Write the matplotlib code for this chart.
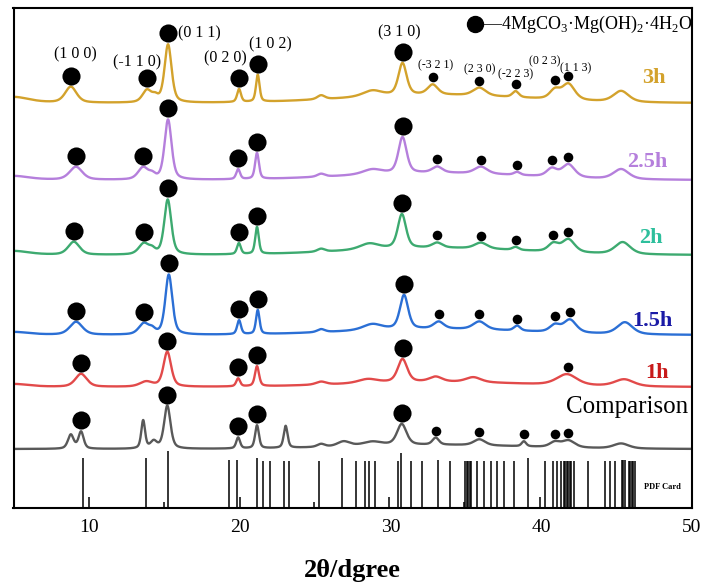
import numpy as np
import matplotlib
matplotlib.use("Agg")
import matplotlib.pyplot as plt

plt.rcParams['font.family'] = ['Liberation Serif', 'DejaVu Serif']
plt.rcParams['mathtext.fontset'] = 'custom'
plt.rcParams['mathtext.rm'] = 'Liberation Serif'

# ---- data ----
# each pattern: baseline level, amorphous hump, peaks as (2theta, height, fwhm)
names = ['3h', '2.5h', '2h', '1.5h', '1h', 'Comparison']
baselines = [405, 328, 253, 173, 121, 59]
humps = [8, 7, 7, 6, 5, 4]

peaks_3h = [(5.0, 6, 2.5), (8.8, 16, 0.9), (13.85, 12, 0.7), (14.4, 5, 0.5),
            (15.25, 58, 0.55), (19.96, 13, 0.3), (21.2, 27, 0.28), (25.4, 4, 0.6),
            (28.8, 6, 1.5), (30.8, 32, 0.65), (32.8, 10, 0.8), (35.9, 8, 1.0),
            (38.3, 6, 0.5), (40.9, 9, 0.8), (41.8, 16, 1.0), (45.3, 11, 1.2)]
peaks_25h = [(5.0, 4, 2.5), (9.14, 13, 1.0), (13.6, 12, 0.8), (14.2, 4, 0.5),
             (15.25, 60, 0.55), (19.9, 10, 0.3), (21.15, 26, 0.3), (25.4, 3, 0.6),
             (28.8, 5, 1.5), (30.8, 36, 0.65), (33.1, 6, 0.8), (36.0, 7, 1.0),
             (38.4, 3, 0.5), (40.7, 8, 0.8), (41.8, 13, 1.0), (45.3, 10, 1.2)]
peaks_2h = [(5.0, 4, 2.5), (9.0, 13, 0.9), (13.65, 11, 0.8), (14.2, 4, 0.5),
            (15.23, 55, 0.55), (19.95, 11, 0.3), (21.15, 27, 0.28), (25.4, 3, 0.6),
            (28.6, 6, 1.5), (30.76, 34, 0.65), (33.1, 5, 0.8), (36.0, 6, 1.0),
            (38.3, 3, 0.5), (40.8, 8, 0.8), (41.8, 13, 1.0), (45.4, 12, 1.2)]
peaks_15h = [(5.0, 3, 2.5), (9.15, 13, 1.0), (13.65, 11, 0.8), (14.2, 4, 0.5),
             (15.3, 60, 0.55), (19.96, 14, 0.3), (21.2, 24, 0.28), (25.4, 3, 0.6),
             (28.8, 6, 1.5), (30.9, 34, 0.65), (33.2, 7, 0.8), (35.9, 8, 1.0),
             (38.4, 5, 0.5), (40.9, 7, 0.8), (41.9, 13, 1.0), (45.55, 12, 1.2)]
peaks_1h = [(5.0, 3, 2.5), (9.48, 13, 0.9), (13.8, 5, 1.0), (15.2, 35, 0.6),
            (19.9, 8, 0.3), (21.15, 20, 0.32), (25.4, 3, 0.8), (28.5, 4, 1.5),
            (30.8, 23, 0.75), (33.0, 5, 1.0), (35.5, 5, 1.2), (41.7, 11, 1.6),
            (45.5, 7, 1.5)]
peaks_cmp = [(8.8, 14, 0.45), (9.48, 17, 0.4), (13.6, 28, 0.3), (14.3, 7, 0.5),
             (15.2, 43, 0.5), (19.9, 11, 0.3), (21.15, 23, 0.3), (23.05, 22, 0.3),
             (25.4, 3, 0.6), (26.9, 5, 1.0), (28.8, 4, 1.5), (30.75, 21, 0.75),
             (33.0, 7, 0.5), (35.9, 6, 0.9), (38.85, 5, 0.35), (40.9, 5, 0.8),
             (41.8, 7, 1.0), (45.3, 5, 1.2)]
all_peaks = [peaks_3h, peaks_25h, peaks_2h, peaks_15h, peaks_1h, peaks_cmp]

# marked reflections (big dots / small dots)
big_dots = [[8.8, 13.85, 15.25, 19.96, 21.2, 30.8],
            [9.14, 13.6, 15.25, 19.9, 21.15, 30.8],
            [9.0, 13.65, 15.23, 19.95, 21.15, 30.76],
            [9.15, 13.65, 15.3, 19.96, 21.2, 30.9],
            [9.48, 15.2, 19.9, 21.15, 30.8],
            [9.48, 15.2, 19.9, 21.15, 30.75]]
small_dots = [[32.8, 35.9, 38.3, 40.9, 41.8],
              [33.1, 36.0, 38.4, 40.7, 41.8],
              [33.1, 36.0, 38.3, 40.8, 41.8],
              [33.2, 35.9, 38.4, 40.9, 41.9],
              [41.8],
              [33.0, 35.9, 38.85, 40.9, 41.8]]

hkl_big = ['(1 0 0)', '(-1 1 0)', '(0 1 1)', '(0 2 0)', '(1 0 2)', '(3 1 0)']
hkl_small = ['(-3 2 1)', '(2 3 0)', '(-2 2 3)', '(0 2 3)', '(1 1 3)']

# PDF card reference lines
pdf_pos = [9.6, 10.0, 13.82, 15.0, 15.28, 19.3, 19.82, 20.0, 21.15, 21.56, 22.0,
           22.95, 23.27, 24.9, 25.29, 26.77, 27.69, 28.28, 28.55, 28.96, 29.88,
           30.5, 30.68, 31.36, 32.07, 33.14, 33.92, 34.85, 34.95, 35.05, 35.15,
           35.25, 35.35, 35.75, 36.2, 36.65, 37.05, 37.55, 38.18, 39.12, 39.9,
           40.28, 40.78, 41.05, 41.3, 41.5, 41.6, 41.7, 41.8, 41.9, 42.0, 42.15,
           43.07, 44.25, 44.58, 44.9, 45.35, 45.45, 45.55, 45.8, 45.9, 46.0,
           46.1, 46.2]
pdf_int = [50, 11, 50, 6, 57, 48, 48, 11, 50, 47, 47,
           47, 47, 6, 47, 50, 47, 47, 47, 47, 11,
           47, 55, 47, 47, 48, 47, 6, 47, 47, 47,
           47, 47, 47, 47, 47, 47, 47, 47, 50, 11,
           47, 47, 47, 47, 47, 47, 47, 47, 47, 47, 47,
           47, 47, 47, 47, 48, 48, 48, 47, 47, 47,
           47, 47]

line_colors = ['#d3a22c', '#b57fdc', '#3daa70', '#2b6fd5', '#e24a4a', '#595959']
label_colors = ['#d3a22c', '#b57fdc', '#2dbf9c', '#1a1aa6', '#c81a1a', 'black']


def pv(x, c, h, w, eta=0.5):
    g = np.exp(-4 * np.log(2) * ((x - c) / w) ** 2)
    l = 1 / (1 + 4 * ((x - c) / w) ** 2)
    return h * ((1 - eta) * g + eta * l)


tt = np.linspace(5, 50, 4000)

fig = plt.figure(figsize=(7.03, 5.82), dpi=100)
ax = fig.add_axes([13.5 / 703, 1 - 508 / 582, 678.5 / 703, 500 / 582])

for i, name in enumerate(names):
    y = baselines[i] + pv(tt, 33, humps[i], 14, eta=0)
    for c, h, w in all_peaks[i]:
        y = y + pv(tt, c, h, w)
    ax.plot(tt, y, color=line_colors[i], lw=1.7)

    for xs, off, s in [(big_dots[i], 11, 170), (small_dots[i], 7, 48)]:
        ys = [y[np.abs(tt - x0) < 0.25].max() + off for x0 in xs]
        ax.scatter(xs, ys, s=s, color='black', zorder=5, linewidths=0)
        if i == 0:
            if off == 11:
                big_pts = list(zip(xs, ys))
            else:
                small_pts = list(zip(xs, ys))

# hkl labels on top pattern
big_off = [(3.6, 15), (-7, 11), (7, 0), (-10, 14), (9, 14), (-2, 14)]
for lab, (px, py), (dx, dy) in zip(hkl_big, big_pts, big_off):
    ha = 'left' if lab == '(0 1 1)' else 'center'
    ax.annotate(lab, (px, py), xytext=(dx, dy), textcoords='offset points',
                ha=ha, va='center', fontsize=11.5)
small_off = [(2, 9), (0, 8), (0, 7), (-7, 14), (5, 6)]
for lab, (px, py), (dx, dy) in zip(hkl_small, small_pts, small_off):
    ax.annotate(lab, (px, py), xytext=(dx, dy), textcoords='offset points',
                ha='center', va='center', fontsize=8.5)

# sample labels
label_xy = [(47.47, 430), (47.0, 346), (47.3, 270), (47.4, 187), (47.7, 135), (45.68, 101)]
for i, name in enumerate(names):
    if name == 'Comparison':
        ax.text(*label_xy[i], name, color='black', fontsize=18, ha='center', va='center')
    else:
        ax.text(*label_xy[i], name, color=label_colors[i], fontsize=16,
                fontweight='bold', ha='center', va='center')

# PDF card
ax.vlines(pdf_pos, 0, pdf_int, color='black', lw=1.1)
ax.text(48.07, 21, 'PDF Card', fontsize=6, fontweight='bold', ha='center', va='center')

# legend
ax.plot([0.680], [0.968], 'o', color='black', ms=11.5, transform=ax.transAxes)
ax.text(0.692, 0.968, r'—4MgCO$_3$·Mg(OH)$_2$·4H$_2$O', transform=ax.transAxes,
        fontsize=13, ha='left', va='center')

ax.set_xlim(5, 50)
ax.set_ylim(0, 500)
ax.set_xticks([10, 20, 30, 40, 50])
ax.set_yticks([])
ax.tick_params(axis='x', length=0, pad=8, labelsize=14)
for sp in ax.spines.values():
    sp.set_linewidth(1.5)
ax.set_xlabel('2θ/dgree', fontsize=19, fontweight='bold')
ax.xaxis.set_label_coords(0.5, -0.102)

fig.savefig('out.png', dpi=100)
